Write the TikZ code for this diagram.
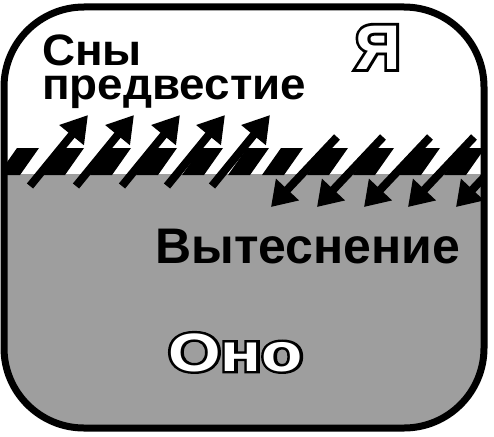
\documentclass[tikz,border=0pt]{standalone}
\usepackage{fontspec}
\setmainfont{Liberation Sans}
\newfontface\outerface{Liberation Sans Bold}[FakeBold=9]
\newfontface\innerface{Liberation Sans Bold}
\usepackage{tikz}
\usetikzlibrary{arrows.meta,positioning}
\definecolor{mygray}{RGB}{158,158,158}

\begin{document}
\begin{tikzpicture}[x=1pt,y=-1pt,
          txt/.style={inner sep=0pt,anchor=base west,font=\bfseries\fontsize{44}{44}\selectfont},
          rimtxt/.style={inner sep=0pt,anchor=base west,text=black},
          filltxt/.style={inner sep=0pt,anchor=base west,text=white},
          stripe/.style={fill=black},
          uparrow/.style={line width=8pt,-{Triangle[length=26pt,width=30pt]}},
          downarrow/.style={line width=8pt,-{Triangle[length=24pt,width=30pt]}},
          frame/.style={line width=7pt,rounded corners=80pt}
          ]
  \useasboundingbox (0,0) rectangle (494,436);
  \begin{scope}
    \clip[rounded corners=80pt] (4,7) rectangle (484,428);
    % the lower part
    \fill[mygray] (0,174) rectangle (494,436);
    % the border stripes
    \foreach \x in {17,62,109,155,201,247,281,326,372,418,463}
      \fill[stripe] (\x,148) -- ++(22,0) -- ++(-19,27) -- ++(-22,0) -- cycle;
    % the arrows going up
    \foreach \i/\x in {1/88,2/134,3/180,4/225,5/270} {
      \coordinate (ut\i) at (\x-58,186);
      \coordinate (uh\i) at (\x,115);
      \draw[uparrow] (ut\i) -- (uh\i);
    }
    % the arrows going down
    \foreach \i/\x in {1/337,2/383,3/430,4/474,5/522} {
      \coordinate (dt\i) at (\x,137);
      \coordinate (dh\i) at (\x-66,207);
      \draw[downarrow] (dt\i) -- (dh\i);
    }
  \end{scope}
  \draw[frame] (4,7) rectangle (484,428);
  % the texts
  \node[txt,anchor=north west,align=left,xscale=1.04,font=\bfseries\fontsize{44}{34}\selectfont] (sny) at (42,35) {Сны\\предвестие};
  \node[txt,font=\bfseries\fontsize{50}{50}\selectfont] (vyt) at (155,263) {Вытеснение};
  % the outlined words
  \node[rimtxt,font=\outerface\fontsize{63}{63}\selectfont] (ya) at (355,69) {Я};
  \node[filltxt,font=\innerface\fontsize{63}{63}\selectfont] (yafill) at (ya.base west) {Я};
  \node[rimtxt,xscale=1.25,font=\outerface\fontsize{54}{54}\selectfont] (ono) at (168,371) {Оно};
  \node[filltxt,xscale=1.25,font=\innerface\fontsize{54}{54}\selectfont] (onofill) at (ono.base west) {Оно};
\end{tikzpicture}
\end{document}
